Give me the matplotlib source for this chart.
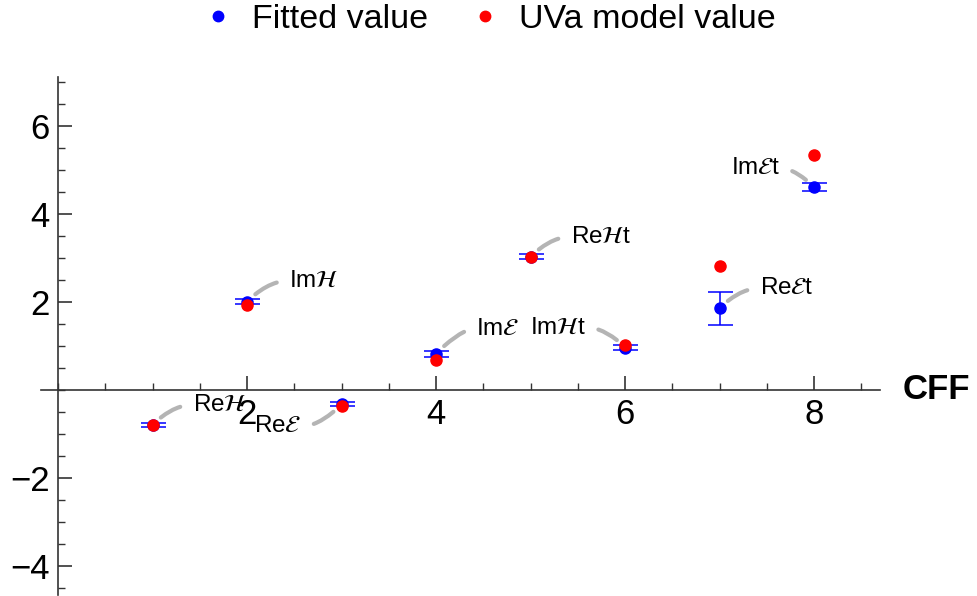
import matplotlib.pyplot as plt
import numpy as np
from matplotlib.ticker import MultipleLocator
from matplotlib.lines import Line2D

plt.rcParams['font.family'] = ['Liberation Sans', 'DejaVu Sans']

# CFF index, fitted values, errors and model values
cff = [1, 2, 3, 4, 5, 6, 7, 8]
fitted = [-0.80, 2.00, -0.33, 0.82, 3.02, 0.96, 1.85, 4.60]
fit_err = [0.05, 0.06, 0.05, 0.07, 0.06, 0.05, 0.38, 0.09]
model = [-0.80, 1.93, -0.38, 0.68, 3.01, 1.01, 2.81, 5.33]
labels = ['Re$\\mathcal{H}$', 'Im$\\mathcal{H}$', 'Re$\\mathcal{E}$', 'Im$\\mathcal{E}$',
          'Re$\\mathcal{H}$t', 'Im$\\mathcal{H}$t', 'Re$\\mathcal{E}$t', 'Im$\\mathcal{E}$t']
# label offsets in pixels (text anchor relative to fitted point)
lab_dx = [40, 42, -40, 40, 40, -39, 40, -34]
lab_dy = [20, 21, -22, 25, 20, 20, 20, 19]

fig = plt.figure(figsize=(9.77, 5.96), dpi=100)
ax = fig.add_axes([0.042, 0.002, 0.859, 0.869])

ax.errorbar(cff, fitted, yerr=fit_err, fmt='o', color='#0000ff', ms=8, capsize=9,
            elinewidth=1.1, capthick=1.1, zorder=3)
ax.plot(cff, model, 'o', color='#ff0000', ms=8, zorder=4)

for x, y, t, dx, dy in zip(cff, fitted, labels, lab_dx, lab_dy):
    right = dx > 0
    # leader line goes diagonally from the point, then flat into the label
    angB = 45 if (dx > 0) == (dy > 0) else 135
    ax.annotate(t, xy=(x, y), xytext=(dx, dy), textcoords='offset pixels',
                ha='left' if right else 'right', va='center', fontsize=17.5,
                arrowprops=dict(arrowstyle='-', color='#b4b4b4', lw=3,
                                shrinkA=7, shrinkB=8,
                                relpos=(0, 0.5) if right else (1, 0.5),
                                connectionstyle='angle3,angleA=0,angleB=%d' % angB))

ax.set_xlim(-0.18, 8.7)
ax.set_ylim(-4.66, 7.11)
ax.spines['left'].set_position(('data', 0))
ax.spines['bottom'].set_position(('data', 0))
ax.spines['top'].set_visible(False)
ax.spines['right'].set_visible(False)
for s in ['left', 'bottom']:
    ax.spines[s].set_color('#333333')
    ax.spines[s].set_linewidth(1.2)

ax.xaxis.set_minor_locator(MultipleLocator(0.5))
ax.yaxis.set_minor_locator(MultipleLocator(0.5))
ax.set_xticks([2, 4, 6, 8])
ax.set_yticks([-4, -2, 2, 4, 6])
ax.tick_params(axis='both', which='both', direction='in', color='#333333', labelsize=25, pad=6)
ax.tick_params(axis='both', which='major', length=10, width=1.2)
ax.tick_params(axis='both', which='minor', length=5, width=1)

ax.annotate('CFF', xy=(1.0, 0), xycoords=ax.get_yaxis_transform(), xytext=(22, 0),
            textcoords='offset pixels', fontsize=25, fontweight='bold', ha='left', va='center')

handles = [Line2D([], [], ls='', marker='o', color='#0000ff', ms=7.5),
           Line2D([], [], ls='', marker='o', color='#ff0000', ms=7.5)]
fig.legend(handles, ['Fitted value', 'UVa model value'], loc='upper center',
           bbox_to_anchor=(0.5, 1.045), ncol=2, frameon=False,
           fontsize=24.5, handletextpad=0.5, columnspacing=1.15, handlelength=1.0)

fig.savefig('out.png', dpi=100)
